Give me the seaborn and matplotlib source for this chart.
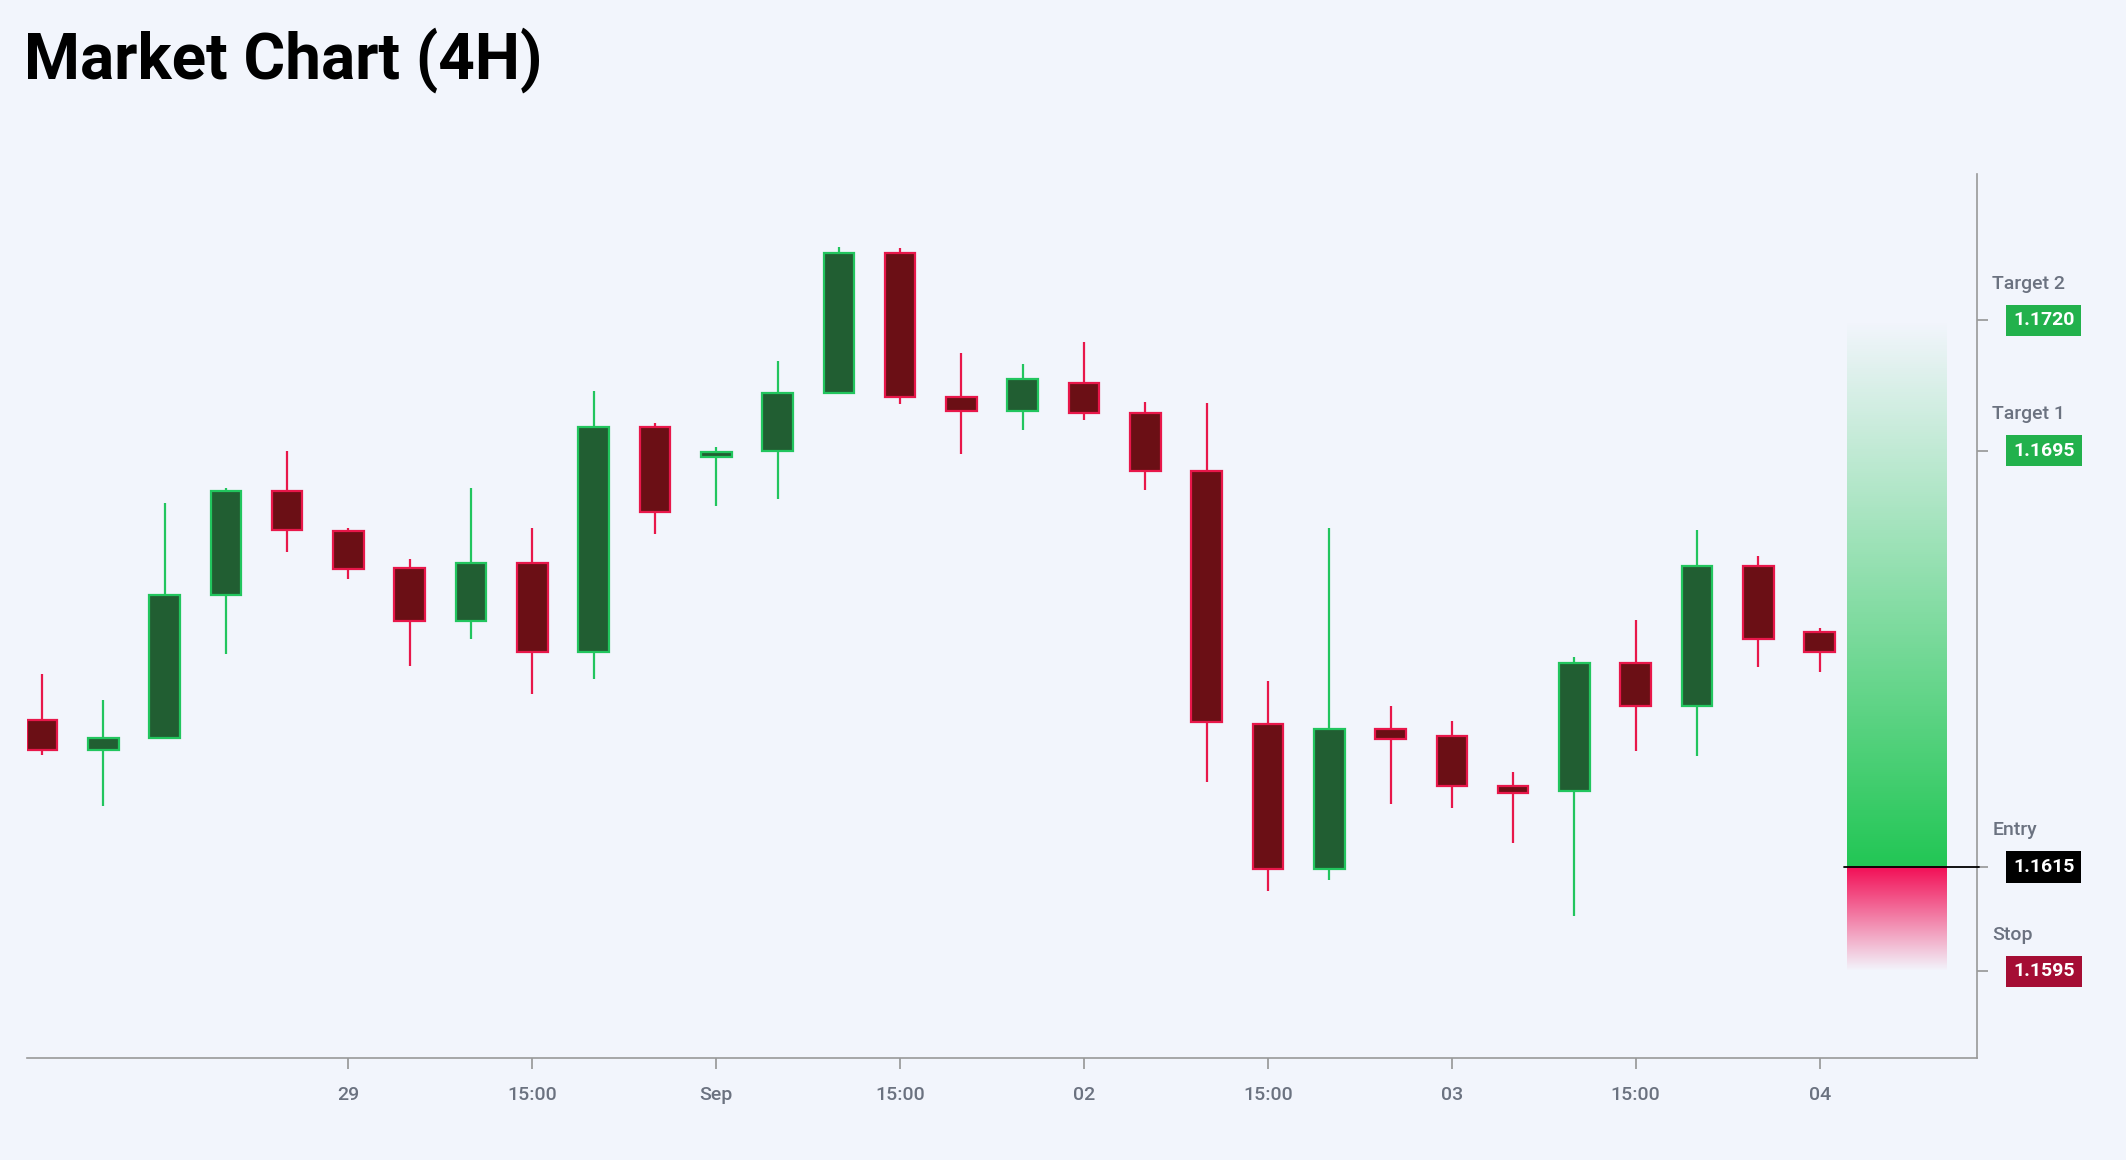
import numpy as np
import matplotlib
matplotlib.use("Agg")
import matplotlib.pyplot as plt
import seaborn as sns
from matplotlib.colors import LinearSegmentedColormap

opens  = [1.16433,1.16376,1.16399,1.16672,1.16872,1.16795,1.16724,1.16623,1.16735,1.16563,
          1.16995,1.16937,1.16950,1.17060,1.17330,1.17052,1.17026,1.17080,1.17023,1.16911,
          1.16425,1.16147,1.16415,1.16402,1.16306,1.16296,1.16542,1.16459,1.16729,1.16602]
closes = [1.16376,1.16399,1.16672,1.16872,1.16797,1.16722,1.16623,1.16735,1.16563,1.16995,
          1.16833,1.16948,1.17060,1.17330,1.17052,1.17026,1.17088,1.17023,1.16911,1.16428,
          1.16147,1.16415,1.16397,1.16306,1.16293,1.16542,1.16459,1.16729,1.16589,1.16563]
highs  = [1.16521,1.16472,1.16849,1.16878,1.16950,1.16802,1.16742,1.16878,1.16802,1.17065,
          1.17002,1.16956,1.17122,1.17340,1.17338,1.17138,1.17117,1.17158,1.17044,1.17041,
          1.16508,1.16802,1.16459,1.16430,1.16332,1.16553,1.16625,1.16797,1.16748,1.16610]
lows   = [1.16365,1.16267,1.16399,1.16560,1.16755,1.16703,1.16537,1.16589,1.16482,1.16511,
          1.16789,1.16844,1.16857,1.17060,1.17039,1.16943,1.16989,1.17008,1.16875,1.16313,
          1.16105,1.16126,1.16272,1.16264,1.16196,1.16056,1.16373,1.16363,1.16534,1.16524]
tick_pos = [5, 8, 11, 14, 17, 20, 23, 26, 29]
tick_labels = ["29", "15:00", "Sep", "15:00", "02", "15:00", "03", "15:00", "04"]
level_names = ["Target 2", "Target 1", "Entry", "Stop"]
level_values = [1.1720, 1.1695, 1.1615, 1.1595]
level_colors = ["#22b14c", "#22b14c", "#000000", "#a50d34"]

BG = "#f2f5fc"
sns.set_theme(style="white")
plt.rcParams["font.family"] = ["Roboto", "DejaVu Sans"]

fig = plt.figure(figsize=(21.26, 11.6), dpi=100, facecolor=BG)
ax = fig.add_axes([0.0128, 0.0876, 0.9172, 0.7624], facecolor=BG)

x = np.arange(len(opens))
o, c, h, l = map(np.array, (opens, closes, highs, lows))
up = c >= o
GB, GE, RB, RE = "#215e32", "#22c55e", "#6b0f15", "#e8174a"
ax.vlines(x[up], l[up], h[up], color=GE, lw=1.6, zorder=2)
ax.vlines(x[~up], l[~up], h[~up], color=RE, lw=1.6, zorder=2)
bot = np.minimum(o, c); ht = np.abs(c - o)
ax.bar(x[up], ht[up], bottom=bot[up], width=0.5, color=GB, edgecolor=GE, linewidth=1.6, zorder=3)
ax.bar(x[~up], ht[~up], bottom=bot[~up], width=0.5, color=RB, edgecolor=RE, linewidth=1.6, zorder=3)

t2, t1, en, st = level_values
zx0, zx1 = 29.45, 31.08
gcm = LinearSegmentedColormap.from_list("g", [(0.13, 0.78, 0.33, 1.0), (0.13, 0.78, 0.33, 0.0)])
rcm = LinearSegmentedColormap.from_list("r", [(0.95, 0.05, 0.33, 1.0), (0.95, 0.05, 0.33, 0.0)])
grad = np.linspace(0, 1, 256).reshape(-1, 1)
ax.imshow(grad, cmap=gcm, extent=[zx0, zx1, en, t2], origin="lower", aspect="auto", zorder=1)
ax.imshow(grad, cmap=rcm, extent=[zx0, zx1, en, st], origin="lower", aspect="auto", zorder=1)
ax.plot([29.4, 31.6], [en, en], color="black", lw=1.3, zorder=4, clip_on=False)

ax.set_xlim(-0.24, 31.57)
ax.set_ylim(1.15783, 1.17481)
ax.set_xticks(tick_pos)
ax.set_xticklabels(tick_labels, fontsize=14, color="#6b7280", fontweight="medium")
ax.set_yticks(level_values)
ax.set_yticklabels([])
ax.yaxis.tick_right()
ax.tick_params(axis="x", length=8, color="#999999", pad=12, bottom=True)
ax.tick_params(axis="y", length=8, color="#999999", right=True, left=False)
for s in ["top", "left"]:
    ax.spines[s].set_visible(False)
for s in ["right", "bottom"]:
    ax.spines[s].set_color("#999999"); ax.spines[s].set_linewidth(1.2)

for name, v, col in zip(level_names, level_values, level_colors):
    ax.annotate(f"{v:.4f}", xy=(1, v), xycoords=("axes fraction", "data"),
                xytext=(26, 0), textcoords="offset points", va="center", ha="left",
                fontsize=14, color="white", fontweight="bold",
                bbox=dict(boxstyle="square,pad=0.35", fc=col, ec="none"))
    ax.annotate(name, xy=(1, v), xycoords=("axes fraction", "data"),
                xytext=(11, 20), textcoords="offset points", va="bottom", ha="left",
                fontsize=14, color="#6b7280", fontweight="medium")

fig.text(0.0115, 0.948, "Market Chart (4H)", fontsize=46, fontweight="bold", color="#000000", va="center")
fig.savefig("out.png", dpi=100, facecolor=BG)
